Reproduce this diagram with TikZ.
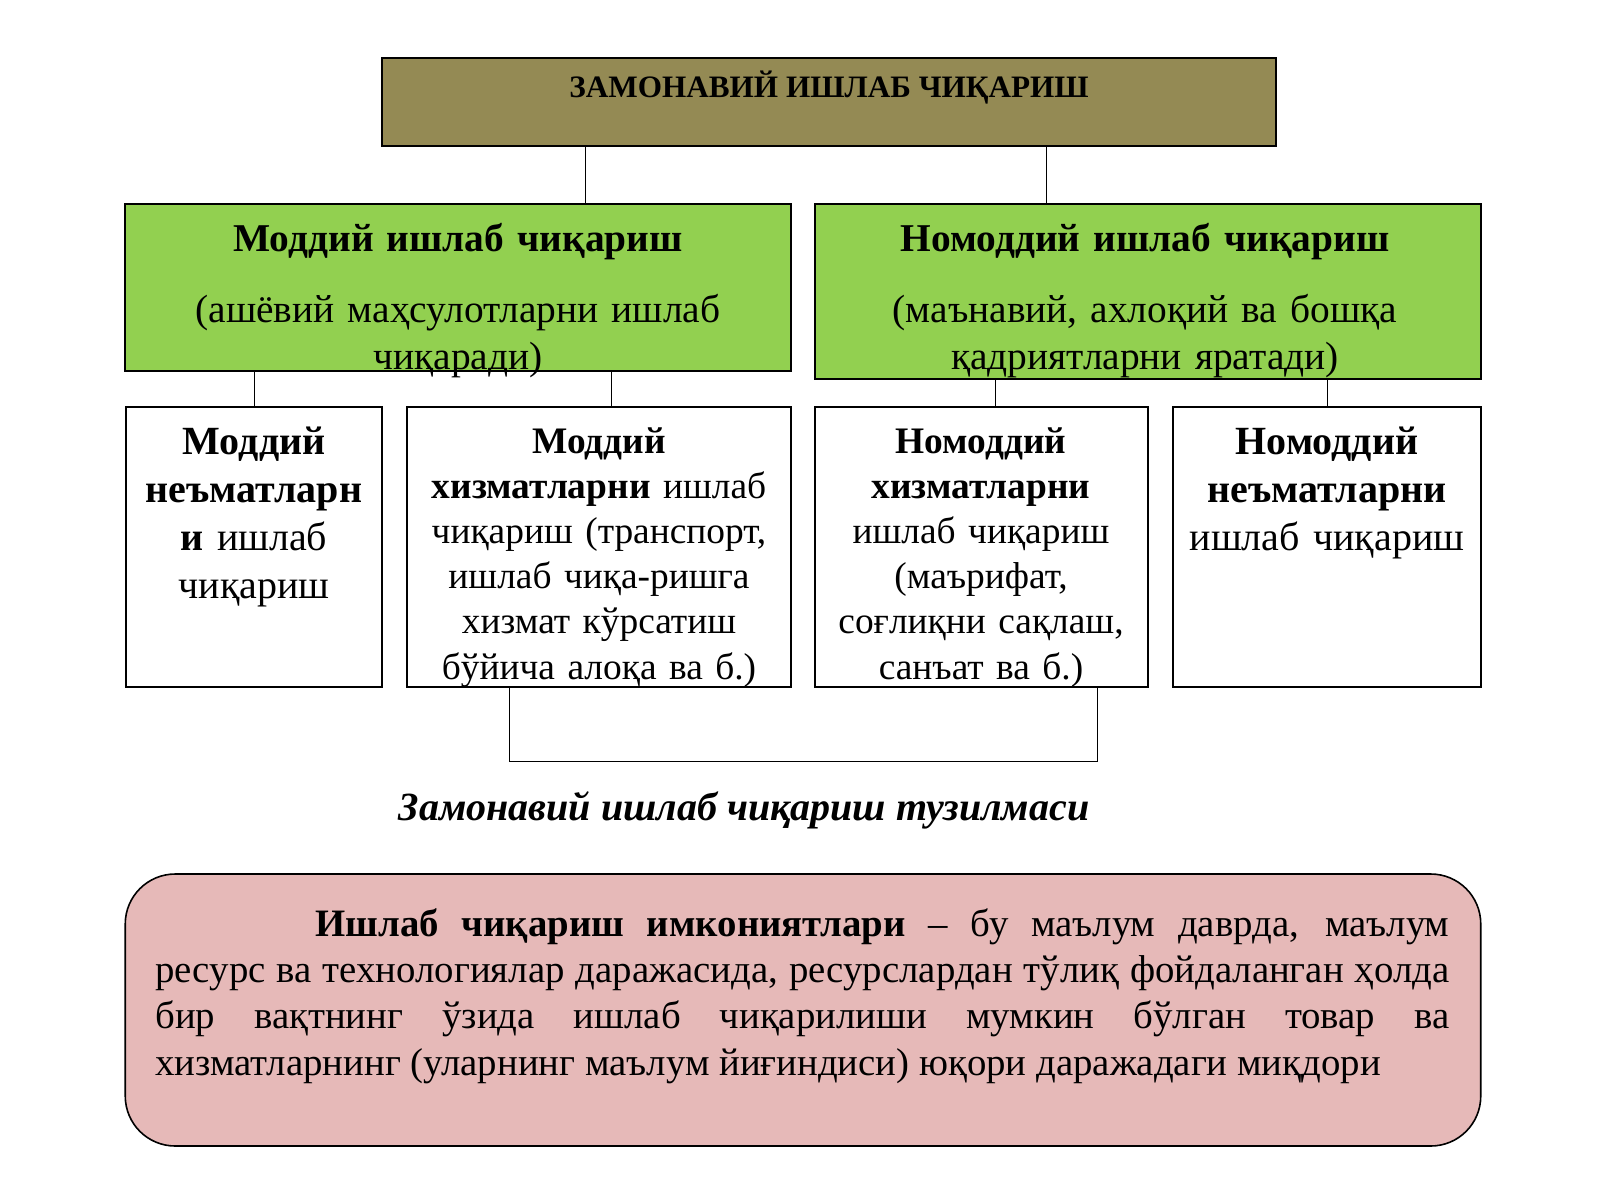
\documentclass[tikz,border=0pt]{standalone}
\usepackage{fontspec}
\setmainfont{Liberation Serif}
\usetikzlibrary{positioning}
\definecolor{olivebox}{HTML}{948A54}
\definecolor{leafbox}{HTML}{92D050}
\definecolor{rosebox}{HTML}{E6B9B8}
\tikzset{
  box/.style={draw=black, line width=0.8pt, inner sep=0pt},
  txt/.style={inner sep=0pt, align=center, anchor=base},
  big/.style={font=\fontsize{20pt}{24pt}\selectfont},
  small/.style={font=\fontsize{18.7pt}{22.6pt}\selectfont},
}
\begin{document}
\begin{tikzpicture}[x=0.5pt,y=-0.5pt]
\useasboundingbox (0,0) rectangle (1600,1200);
% boxes
\node[box, fill=olivebox, minimum width=447pt, minimum height=44pt] (top) at (829,102) {};
\node[box, fill=leafbox, minimum width=332.75pt, minimum height=83.5pt] (modd) at (458,287.5) {};
\node[box, fill=leafbox, minimum width=333pt, minimum height=87.5pt] (nomodd) at (1148,291.5) {};
\node[box, minimum width=128.25pt, minimum height=140pt] (b1) at (254,547) {};
\node[box, minimum width=192pt, minimum height=140pt] (b2) at (599,547) {};
\node[box, minimum width=166.5pt, minimum height=140pt] (b3) at (981.5,547) {};
\node[box, minimum width=154pt, minimum height=140pt] (b4) at (1327,547) {};
\node[box, fill=rosebox, rounded corners=25pt, minimum width=677.75pt, minimum height=136pt] (def) at (803,1010) {};
% connectors
\draw ([xshift=102pt]top.south west) -- ([xshift=102pt]top.south west |- modd.north);
\draw ([xshift=-115pt]top.south east) -- ([xshift=-115pt]top.south east |- nomodd.north);
\draw (b1.north) -- (b1.north |- modd.south);
\draw ([xshift=6pt]b2.north) -- ([xshift=6pt]b2.north |- modd.south);
\draw ([xshift=6.75pt]b3.north) -- ([xshift=6.75pt]b3.north |- nomodd.south);
\draw (b4.north) -- (b4.north |- nomodd.south);
\draw ([xshift=-45pt]b2.south) -- ++(0,74) -| ([xshift=57.75pt]b3.south);
% texts
\node[txt, font=\bfseries\fontsize{15.6pt}{19pt}\selectfont] (toptxt) at (829,97) {ЗАМОНАВИЙ ИШЛАБ ЧИҚАРИШ};
\node[txt, text width=330pt, font=\fontsize{19.7pt}{23.5pt}\selectfont] (moddtxt) at (458,251)
  {\textbf{Моддий ишлаб чиқариш}\\[12.3pt] (ашёвий маҳсулотларни ишлаб\\ чиқаради)};
\node[txt, text width=330pt, font=\fontsize{19.7pt}{23.5pt}\selectfont] (nomoddtxt) at (1145,251)
  {\textbf{Номоддий ишлаб чиқариш}\\[12.3pt] (маънавий, ахлоқий ва бошқа\\ қадриятларни яратади)};
\node[txt, big, text width=126pt] (b1txt) at (254,454)
  {\textbf{Моддий}\\ \textbf{неъматларн}\\ \textbf{и} ишлаб\\ чиқариш};
\node[txt, small, text width=190pt] (b2txt) at (599,453)
  {\textbf{Моддий}\\ \textbf{хизматларни} ишлаб\\ чиқариш (транспорт,\\ ишлаб чиқа-ришга\\ хизмат кўрсатиш\\ бўйича алоқа ва б.)};
\node[txt, small, text width=165pt] (b3txt) at (981,453)
  {\textbf{Номоддий}\\ \textbf{хизматларни}\\ ишлаб чиқариш\\ (маърифат,\\ соғлиқни сақлаш,\\ санъат ва б.)};
\node[txt, big, text width=152pt] (b4txt) at (1327,454)
  {\textbf{Номоддий}\\ \textbf{неъматларни}\\ ишлаб чиқариш};
\node[txt, font=\bfseries\itshape\fontsize{20pt}{24pt}\selectfont] (caption) at (744,820)
  {Замонавий ишлаб чиқариш тузилмаси};
\node[txt, anchor=base west, text width=647pt, align=justify, font=\fontsize{19.4pt}{23.2pt}\selectfont] (deftxt) at (155,936)
  {\hspace*{80pt}\textbf{Ишлаб чиқариш имкониятлари} – бу маълум даврда, маълум\linebreak
   ресурс ва технологиялар даражасида, ресурслардан тўлиқ фойдаланган ҳолда\linebreak
   бир вақтнинг ўзида ишлаб чиқарилиши мумкин бўлган товар ва\linebreak
   хизматларнинг (уларнинг маълум йиғиндиси) юқори даражадаги миқдори};
\end{tikzpicture}
\end{document}
